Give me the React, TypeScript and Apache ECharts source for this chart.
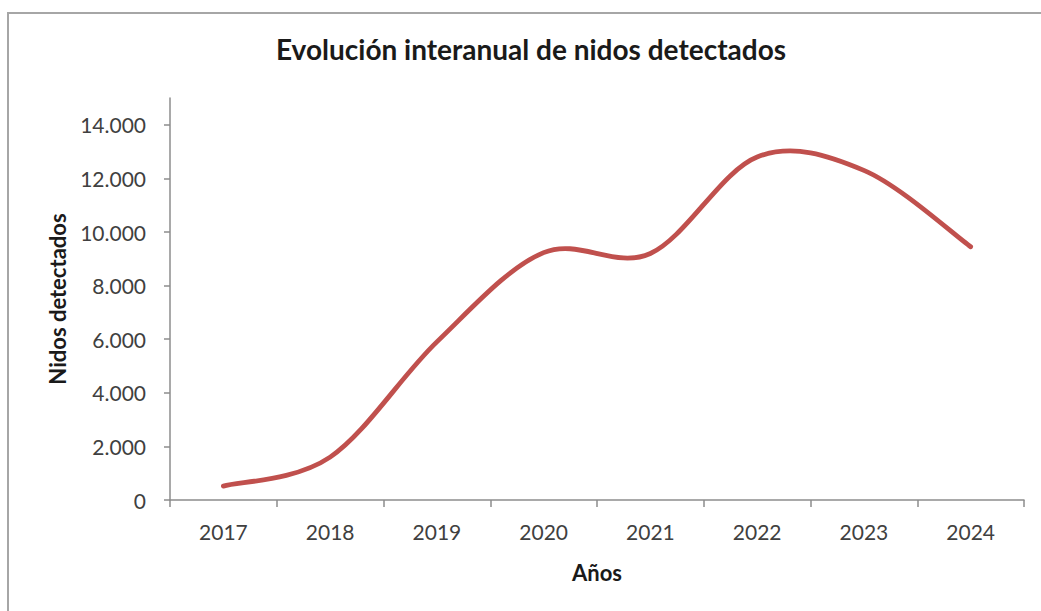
import React, { useEffect, useRef } from "react";
import * as echarts from "echarts";

const years = ["2017", "2018", "2019", "2020", "2021", "2022", "2023", "2024"];
const nidos = [520, 1600, 5900, 9230, 9200, 12800, 12300, 9450];
const yTicks = [0, 2000, 4000, 6000, 8000, 10000, 12000, 14000];

const fmt = (v: number) => (v === 0 ? "0" : v.toLocaleString("de-DE"));

export default function App() {
  const ref = useRef<HTMLDivElement>(null);
  useEffect(() => {
    document.body.style.margin = "0";
    const chart = echarts.init(ref.current!, null, { renderer: "svg" });
    const font = "Lato, 'Open Sans', sans-serif";
    const renderItem = (params: any, api: any) => {
      if (params.dataIndex !== 0) return null;
      const pts = nidos.map((v, i) => api.coord([i, v]));
      const n = pts.length;
      let d = `M${pts[0][0]},${pts[0][1]}`;
      for (let i = 0; i < n - 1; i++) {
        const p0 = pts[Math.max(i - 1, 0)];
        const p1 = pts[i];
        const p2 = pts[i + 1];
        const p3 = pts[Math.min(i + 2, n - 1)];
        const c1x = p1[0] + (p2[0] - p0[0]) / 6;
        const c1y = p1[1] + (p2[1] - p0[1]) / 6;
        const c2x = p2[0] - (p3[0] - p1[0]) / 6;
        const c2y = p2[1] - (p3[1] - p1[1]) / 6;
        d += ` C${c1x},${c1y} ${c2x},${c2y} ${p2[0]},${p2[1]}`;
      }
      return {
        type: "path",
        shape: { pathData: d },
        style: { fill: "none", stroke: "#c0504d", lineWidth: 4.8, lineCap: "round", lineJoin: "round" },
      };
    };
    chart.setOption({
      animation: false,
      backgroundColor: "#ffffff",
      textStyle: { fontFamily: font },
      title: {
        text: "Evolución interanual de nidos detectados",
        left: 271,
        top: 30,
        textStyle: { fontFamily: font, fontSize: 28, fontWeight: "bold", color: "#1a1a1a" },
      },
      graphic: [
        {
          type: "rect",
          shape: { x: 8, y: 13, width: 1100, height: 700 },
          style: { fill: "none", stroke: "#a6a6a6", lineWidth: 2 },
          silent: true,
        },
      ],
      grid: { left: 170, right: 17, top: 98, bottom: 111 },
      xAxis: {
        type: "category",
        data: years,
        boundaryGap: true,
        name: "Años",
        nameLocation: "middle",
        nameGap: 61,
        nameTextStyle: { fontFamily: font, fontSize: 22, fontWeight: "bold", color: "#1a1a1a", verticalAlign: "top" },
        axisLine: { lineStyle: { color: "#8c8c8c", width: 1.5 } },
        axisTick: { show: true, length: 7, lineStyle: { color: "#8c8c8c", width: 1.5 } },
        axisLabel: { fontFamily: font, fontSize: 21, color: "#404040", margin: 21 },
        splitLine: { show: false },
      },
      yAxis: {
        type: "value",
        min: 0,
        max: 15000,
        interval: 1000,
        name: "Nidos detectados",
        nameLocation: "middle",
        nameGap: 102,
        nameTextStyle: { fontFamily: font, fontSize: 22, fontWeight: "bold", color: "#1a1a1a" },
        axisLine: { show: true, lineStyle: { color: "#8c8c8c", width: 1.5 } },
        axisTick: { show: true, length: 6, customValues: yTicks, lineStyle: { color: "#8c8c8c", width: 1.5 } },
        axisLabel: {
          fontFamily: font,
          fontSize: 21,
          color: "#404040",
          margin: 24,
          customValues: yTicks,
          formatter: (v: number) => fmt(v),
        },
        splitLine: { show: false },
      },
      series: [
        {
          type: "custom",
          name: "Nidos detectados",
          renderItem,
          data: nidos.map((v, i) => [i, v]),
          encode: { x: 0, y: 1 },
          clip: false,
        },
      ],
    });
    return () => chart.dispose();
  }, []);
  return <div ref={ref} style={{ width: 1041, height: 611 }} />;
}
